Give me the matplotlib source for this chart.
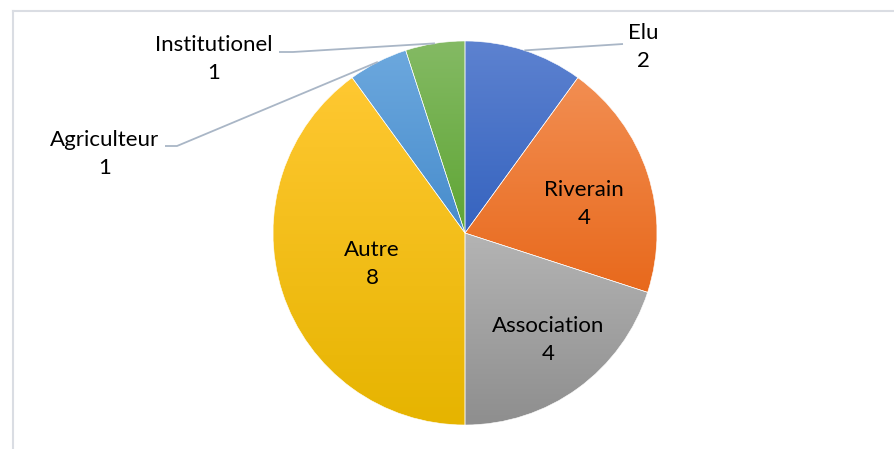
import numpy as np
import matplotlib
matplotlib.use("Agg")
import matplotlib.pyplot as plt
from matplotlib.colors import to_rgb

# Données du graphique
categories = ["Elu", "Riverain", "Association", "Autre", "Agriculteur", "Institutionel"]
valeurs = [2, 4, 4, 8, 1, 1]

# Dégradés (haut -> bas) pour chaque part
couleurs_haut = ["#5D82D0", "#F28E52", "#B4B4B4", "#FFC832", "#6CA8DE", "#84BA64"]
couleurs_bas = ["#3563BF", "#E8691C", "#8E8E8E", "#E6B400", "#478CCC", "#5FA534"]

W, H = 895, 449
plt.rcParams['font.family'] = ['Lato', 'DejaVu Sans']

fig = plt.figure(figsize=(W / 100, H / 100), dpi=100)
ax = fig.add_axes([0, 0, 1, 1])

centre = (465, H - 233)
rayon = 192

wedges, _ = ax.pie(valeurs, startangle=90, counterclock=False, center=centre,
                   radius=rayon, frame=True,
                   wedgeprops=dict(edgecolor="white", linewidth=0.4))

# Remplissage en dégradé vertical, découpé par chaque part
for w, c1, c2 in zip(wedges, couleurs_haut, couleurs_bas):
    bb = w.get_path().get_extents()
    grad = np.linspace(0, 1, 256)[:, None, None]
    img = (1 - grad) * np.array(to_rgb(c1)) + grad * np.array(to_rgb(c2))
    im = ax.imshow(img, extent=(bb.x0, bb.x1, bb.y0, bb.y1), aspect="auto",
                   origin="upper", interpolation="bilinear", zorder=1)
    im.set_clip_path(w)
    w.set_facecolor("none")
    w.set_zorder(2)

ax.set_xlim(0, W)
ax.set_ylim(0, H)
ax.axis("off")

# Étiquettes à l'intérieur
interne = {"Riverain": (584, 204), "Association": (548, 340), "Autre": (372, 264)}
# Étiquettes à l'extérieur avec lignes de rappel
externe = {"Elu": ((643, 47), (623, 44), None),
           "Institutionel": ((214, 59), (279, 52), (293, 52)),
           "Agriculteur": ((105, 154), (165, 146), (177, 146))}

total = sum(valeurs)
angle = 90.0
for cat, v in zip(categories, valeurs):
    span = 360.0 * v / total
    mid = np.deg2rad(angle - span / 2)
    angle -= span
    texte = f"{cat}\n{v}"
    if cat in interne:
        x, y = interne[cat]
        ax.text(x, H - y, texte, ha="center", va="center", fontsize=16,
                linespacing=1.5, color="black", zorder=5)
    else:
        (lx, ly), p_fin, p_coude = externe[cat]
        ax.text(lx, H - ly, texte, ha="center", va="center", fontsize=16,
                linespacing=1.5, color="black", zorder=5)
        px = centre[0] + rayon * np.cos(mid)
        py = centre[1] + rayon * np.sin(mid)
        xs, ys = [px], [py]
        if p_coude is not None:
            xs.append(p_coude[0]); ys.append(H - p_coude[1])
        xs.append(p_fin[0]); ys.append(H - p_fin[1])
        ax.plot(xs, ys, color="#A9B6C6", linewidth=1.3, zorder=4,
                solid_capstyle="butt")

# Cadre du graphique (bords gauche et haut visibles)
ax.plot([13, 13], [0, H - 11], color="#DADDE3", linewidth=1.5, zorder=0)
ax.plot([13, W], [H - 11, H - 11], color="#DADDE3", linewidth=1.5, zorder=0)

fig.savefig("out.png", dpi=100)
